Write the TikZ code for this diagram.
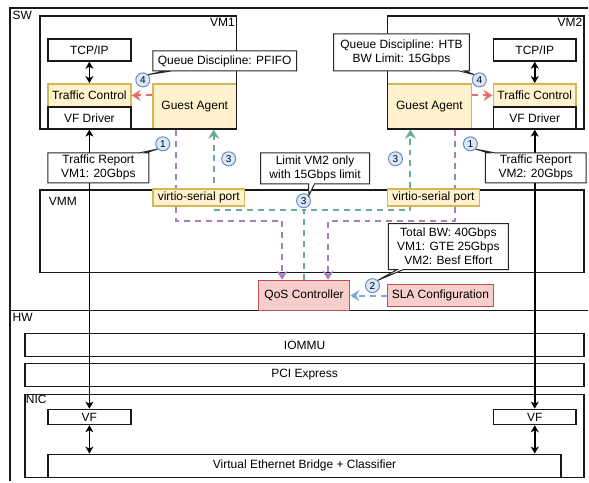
\documentclass[tikz,border=0pt]{standalone}
\usepackage{fontspec}
\setmainfont{Liberation Sans}
\usetikzlibrary{shapes.callouts,arrows.meta}

\definecolor{gialloF}{HTML}{FFF2CC}
\definecolor{gialloB}{HTML}{D6B656}
\definecolor{rossoF}{HTML}{F8CECC}
\definecolor{rossoB}{HTML}{B85450}
\definecolor{bluF}{HTML}{DAE8FC}
\definecolor{bluB}{HTML}{6C8EBF}
\definecolor{viola}{HTML}{A680B8}
\definecolor{verde}{HTML}{67AB9F}
\definecolor{bluL}{HTML}{7EA6E0}
\definecolor{rossoL}{HTML}{EA6B66}

\begin{document}
\begin{tikzpicture}[x=1pt, y=-1pt, font=\fontsize{12}{14}\selectfont]
	% Stili
	\tikzset{
		cornice/.style={draw=black!90, line width=1.6pt, inner sep=0pt},
		scatola/.style={cornice, fill=white, minimum width=83pt, minimum height=22pt},
		giallo/.style={scatola, fill=gialloF, draw=gialloB},
		rosso/.style={scatola, fill=rossoF, draw=rossoB},
		numero/.style={circle, draw=bluB, fill=bluF, line width=1pt, minimum size=14pt, inner sep=0pt, font=\fontsize{10}{10}\selectfont},
		nota/.style={rectangle callout, draw=black!85, line width=1pt, fill=white, align=center, inner sep=1pt, callout pointer width=6pt},
		titolo/.style={inner sep=2.5pt},
		tratto/.style={line width=2pt, dash pattern=on 6pt off 5pt, -{Stealth[length=9pt,width=11pt,inset=3pt]}},
		doppia/.style={line width=1.5pt, {Stealth[length=7pt,width=8pt,inset=2pt]}-{Stealth[length=7pt,width=8pt,inset=2pt]}},
	}
	
	\fill[white] (0,0) rectangle (589,482);
	
	% SW e HW
	\draw[cornice] (589,8) -| (10,482);
	\draw[cornice] (10,311) -- (589,311);
	\node[titolo, anchor=north west] (sw) at (10,8) {SW};
	\node[titolo, anchor=north west] (hw) at (10,311) {HW};
	
	% VMM e hardware
	\node[cornice, minimum width=545pt, minimum height=83pt] (vmm) at (312.5,231.5) {};
	\node (vmmt) at (63,202) {VMM};
	\node[scatola, minimum width=560pt, minimum height=23pt] (iommu) at (305,345.5) {IOMMU};
	\node[scatola, minimum width=560pt, minimum height=23pt] (pcie) at (305,375.5) {PCI Express};
	\node[scatola, minimum width=560pt, minimum height=83pt] (nic) at (305,436.5) {};
	\node[titolo, anchor=north west, inner sep=1.5pt] (nict) at (nic.north west) {NIC};
	\node[scatola, minimum height=15pt] (vf1) at (89.5,417.5) {VF};
	\node[scatola, minimum height=15pt] (vf2) at (535.5,417.5) {VF};
	\node[scatola, minimum width=514pt, minimum height=23pt] (veb) at (305,466.5) {Virtual Ethernet Bridge + Classifier};
	
	% Controller
	\node[rosso, minimum width=91pt, minimum height=30pt] (qos) at (304.5,296) {QoS Controller};
	\node[rosso, minimum width=106pt] (sla) at (441,296) {SLA Configuration};
	
	% VM1
	\node[scatola] (tcp1) at (89.5,50) {TCP/IP};
	\node[giallo, minimum height=23pt] (tc1) at (89.5,95.5) {Traffic Control};
	\node[scatola] (vfd1) at (89.5,118) {VF Driver};
	\node[giallo, minimum width=84pt, minimum height=45pt] (ga1) at (195,106.5) {Guest Agent};
	\node[cornice, minimum width=197pt, minimum height=113pt] (vm1) at (138.5,72.5) {};
	\node[titolo, anchor=north east] (vm1t) at (vm1.north east) {VM1};
	
	% VM2
	\node[scatola] (tcp2) at (535.5,50) {TCP/IP};
	\node[giallo, minimum height=23pt] (tc2) at (535.5,95.5) {Traffic Control};
	\node[scatola] (vfd2) at (535.5,118) {VF Driver};
	\node[giallo, minimum width=84pt, minimum height=45pt] (ga2) at (430,106.5) {Guest Agent};
	\node[cornice, minimum width=197pt, minimum height=113pt] (vm2) at (486.5,72.5) {};
	\node[titolo, anchor=north east] (vm2t) at (vm2.north east) {VM2};
	
	% Frecce nere
	\draw[doppia] (tcp1) -- (tc1);
	\draw[doppia] (tcp2) -- (tc2);
	\draw[doppia] (vfd1) -- (vf1);
	\draw[doppia] (vfd2) -- (vf2);
	\draw[doppia] (vf1) -- (veb.north -| vf1.south);
	\draw[doppia] (vf2) -- (veb.north -| vf2.south);
	
	% Frecce tratteggiate
	\draw[tratto, viola] ([xshift=-19pt]ga1.south) -- ++(0,91) -| ([xshift=-22pt]qos.north);
	\draw[tratto, viola] ([xshift=26pt]ga2.south) -- ++(0,91) -| ([xshift=24pt]qos.north);
	\draw[tratto, verde] (qos.north) -- ++(0,-70) -| ([xshift=19pt]ga1.south);
	\draw[tratto, verde] (qos.north) -- ++(0,-70) -| ([xshift=-19pt]ga2.south);
	\draw[tratto, bluL] (sla) -- (qos);
	\draw[tratto, rossoL] (ga1.west |- tc1.east) -- (tc1.east);
	\draw[tratto, rossoL] (ga2.east |- tc2.west) -- (tc2.west);
	
	% Porte virtio
	\node[giallo, minimum width=92pt, minimum height=17pt] (vp1) at (199,197.5) {virtio-serial port};
	\node[giallo, minimum width=92pt, minimum height=17pt] (vp2) at (434,197.5) {virtio-serial port};
	
	% Numeri
	\node[numero] (c4a) at (143,80) {4};
	\node[numero] (c4b) at (480,80) {4};
	\node[numero] (c1a) at (163,144) {1};
	\node[numero] (c1b) at (471,144) {1};
	\node[numero] (c3a) at (229,159) {3};
	\node[numero] (c3b) at (396,159) {3};
	\node[numero] (c3c) at (304,201) {3};
	\node[numero] (c2) at (373,286) {2};
	
	% Note
	\node[nota, minimum width=144pt, minimum height=20pt, callout absolute pointer={(c4a.north east)}] (n4a) at (225,61) {Queue Discipline: PFIFO};
	\node[nota, minimum width=136pt, minimum height=37pt, callout absolute pointer={(c4b.north west)}] (n4b) at (402,52.5) {Queue Discipline: HTB\\BW Limit: 15Gbps};
	\node[nota, minimum width=101pt, minimum height=30pt, callout absolute pointer={(c1a.south west)}] (n1a) at (98.5,168) {Traffic Report\\VM1: 20Gbps};
	\node[nota, minimum width=101pt, minimum height=30pt, callout absolute pointer={(c1b.south east)}] (n1b) at (536.5,168) {Traffic Report\\VM2: 20Gbps};
	\node[nota, minimum width=109pt, minimum height=31pt, callout absolute pointer={(c3c.north east)}] (n3c) at (315.5,168.5) {Limit VM2 only\\with 15Gbps limit};
	\node[nota, minimum width=120pt, minimum height=46pt, callout absolute pointer={(c2.north east)}] (n2) at (449,247) {Total BW: 40Gbps\\VM1: GTE 25Gbps\\VM2: Besf Effort};
\end{tikzpicture}
\end{document}
